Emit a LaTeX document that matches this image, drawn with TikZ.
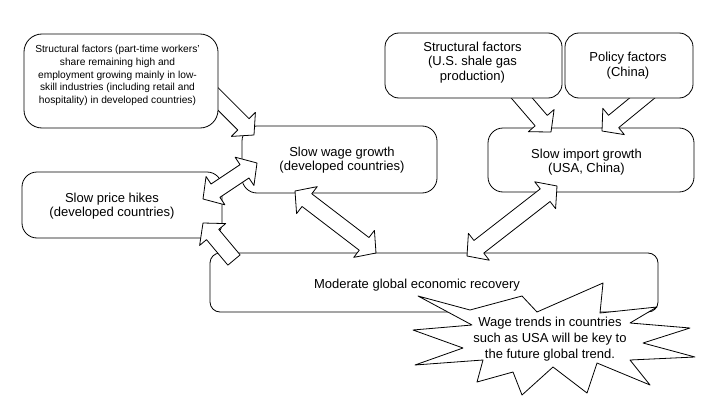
\documentclass[tikz,border=0pt]{standalone}
\usepackage{fontspec}
\setmainfont{Liberation Sans}
\usetikzlibrary{calc}
\tikzset{
  box/.style={draw=black, fill=white, line width=0.8pt, rectangle, inner sep=0pt},
  txt/.style={align=center, font=\fontsize{13}{14.5}\selectfont, inner sep=0pt},
  smalltxt/.style={align=center, font=\fontsize{10.2}{12.6}\selectfont, inner sep=0pt},
  barrow/.style={draw=black, fill=white, line width=0.8pt, line join=round},
}
\newcommand{\arrShaft}{8pt}
\newcommand{\arrHead}{17pt}
\newcommand{\arrHeadL}{15pt}
\newcommand{\singlearrow}[2]{%
  \coordinate (#1#2h) at ($(#2)!\arrHeadL!(#1)$);
  \path[barrow] ($(#1)!\arrShaft!90:(#2)$) -- ($(#1#2h)!\arrShaft!90:(#2)$)
    -- ($(#1#2h)!\arrHead!90:(#2)$) -- (#2) -- ($(#1#2h)!\arrHead!-90:(#2)$)
    -- ($(#1#2h)!\arrShaft!-90:(#2)$) -- ($(#1)!\arrShaft!-90:(#2)$) -- cycle;
}
\newcommand{\doublearrow}[2]{%
  \coordinate (#1#2ha) at ($(#1)!\arrHeadL!(#2)$);
  \coordinate (#1#2hb) at ($(#2)!\arrHeadL!(#1)$);
  \path[barrow] (#1) -- ($(#1#2ha)!\arrHead!90:(#2)$) -- ($(#1#2ha)!\arrShaft!90:(#2)$)
    -- ($(#1#2hb)!\arrShaft!90:(#2)$) -- ($(#1#2hb)!\arrHead!90:(#2)$) -- (#2)
    -- ($(#1#2hb)!\arrHead!-90:(#2)$) -- ($(#1#2hb)!\arrShaft!-90:(#2)$)
    -- ($(#1#2ha)!\arrShaft!-90:(#2)$) -- ($(#1#2ha)!\arrHead!-90:(#2)$) -- cycle;
}
\begin{document}
\begin{tikzpicture}[x=1pt,y=-1pt]
\useasboundingbox (0,0) rectangle (709,396);
% arrow end points
\coordinate (a1s) at (211,92);  \coordinate (a1e) at (254,135);
\coordinate (a2s) at (203,199); \coordinate (a2e) at (257,163);
\coordinate (a3s) at (234,260); \coordinate (a3e) at (203,223);
\coordinate (a4s) at (295,191); \coordinate (a4e) at (376,253);
\coordinate (a5s) at (467,256); \coordinate (a5e) at (557,186);
\coordinate (a6s) at (514,89);  \coordinate (a6e) at (551,132);
\coordinate (a7s) at (652,90);  \coordinate (a7e) at (602,131);
% target boxes
\node[box, rounded corners=15pt, minimum width=206pt, minimum height=64pt] (D) at (591,160) {};
\node[box, rounded corners=15pt, minimum width=195pt, minimum height=67pt] (E) at (339.5,159.5) {};
\node[box, rounded corners=15pt, minimum width=200pt, minimum height=66pt] (F) at (122,205) {};
\node[box, rounded corners=10pt, minimum width=448pt, minimum height=59pt] (G) at (434,282.5) {};
% single arrows (tails hidden under the source boxes)
\singlearrow{a1s}{a1e}
\singlearrow{a6s}{a6e}
\singlearrow{a7s}{a7e}
% source boxes
\node[box, rounded corners=18pt, minimum width=194pt, minimum height=94pt] (A) at (121,81) {};
\node[box, rounded corners=14pt, minimum width=177pt, minimum height=65pt] (B) at (473.5,65.5) {};
\node[box, rounded corners=14pt, minimum width=128pt, minimum height=65pt] (C) at (629,65.5) {};
% texts
\node[smalltxt] (At) at (117.5,75.5) {Structural factors (part-time workers'\\share remaining high and\\employment growing mainly in low-\\skill industries (including retail and\\hospitality) in developed countries)};
\node[txt] (Bt) at (472.5,62.5) {Structural factors\\(U.S. shale gas\\production)};
\node[txt] (Ct) at (628,65.5) {Policy factors\\(China)};
\node[txt] (Dt) at (586.5,162) {Slow import growth\\(USA, China)};
\node[txt] (Et) at (342,160) {Slow wage growth\\(developed countries)};
\node[txt] (Ft) at (112,206) {Slow price hikes\\(developed countries)};
\node[txt] (Gt) at (417,285) {Moderate global economic recovery};
% remaining arrows
\doublearrow{a2s}{a2e}
\singlearrow{a3s}{a3e}
\doublearrow{a4s}{a4e}
\doublearrow{a5s}{a5e}
% starburst
\draw[barrow] (418,296) -- (470,310) -- (522,296) -- (537,312) -- (603,283) -- (600,313)
  -- (657,307) -- (630,323) -- (690,328) -- (643,343) -- (695,357) -- (630,360)
  -- (650,385) -- (597,363) -- (587,393) -- (553,367) -- (522,395) -- (513,372)
  -- (477,382) -- (483,360) -- (415,365) -- (463,348) -- (413,330) -- (472,325) -- cycle;
\node[txt, font=\fontsize{13}{16}\selectfont] (S) at (550,339.5) {Wage trends in countries\\such as USA will be key to\\the future global trend.};
\end{tikzpicture}
\end{document}
